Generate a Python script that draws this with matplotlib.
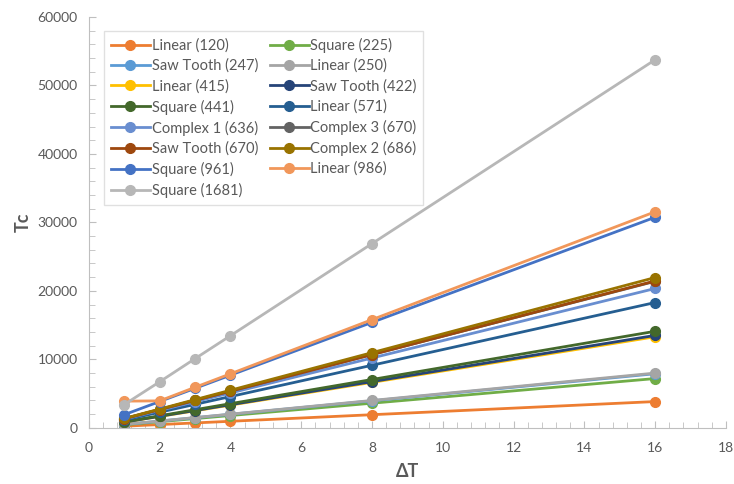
import matplotlib
matplotlib.use("Agg")
import matplotlib.pyplot as plt
from matplotlib.ticker import MultipleLocator

plt.rcParams['font.family'] = ['Lato', 'DejaVu Sans']

# temperature steps
dT = [1, 2, 3, 4, 8, 16]

names = ['Linear (120)', 'Square (225)', 'Saw Tooth (247)', 'Linear (250)',
         'Linear (415)', 'Saw Tooth (422)', 'Square (441)', 'Linear (571)',
         'Complex 1 (636)', 'Complex 3 (670)', 'Saw Tooth (670)', 'Complex 2 (686)',
         'Square (961)', 'Linear (986)', 'Square (1681)']

lin120 = [240, 480, 720, 960, 1920, 3840]
sq225 = [450, 900, 1350, 1800, 3600, 7200]
saw247 = [490, 990, 1480, 1980, 3950, 7900]
lin250 = [500, 1000, 1500, 2000, 4000, 8000]
lin415 = [830, 1660, 2490, 3320, 6640, 13300]
saw422 = [840, 1690, 2530, 3380, 6750, 13500]
sq441 = [880, 1760, 2650, 3530, 7060, 14100]
lin571 = [1140, 2280, 3430, 4570, 9140, 18300]
cx1_636 = [1270, 2540, 3820, 5090, 10200, 20350]
cx3_670 = [1340, 2680, 4020, 5360, 10700, 21400]
saw670 = [1340, 2680, 4020, 5360, 10700, 21450]
cx2_686 = [1370, 2740, 4120, 5490, 10980, 21950]
sq961 = [1920, 3840, 5770, 7690, 15400, 30750]
lin986 = [3900, 3940, 5920, 7890, 15800, 31550]
sq1681 = [3400, 6720, 10100, 13450, 26900, 53750]

series = [lin120, sq225, saw247, lin250, lin415, saw422, sq441, lin571,
          cx1_636, cx3_670, saw670, cx2_686, sq961, lin986, sq1681]

colors = ['#ED7D31', '#70AD47', '#5B9BD5', '#A5A5A5', '#FFC000', '#264478',
          '#43682B', '#255E91', '#698ED0', '#636363', '#9E480E', '#997300',
          '#4472C4', '#F1975A', '#B7B7B7']

fig = plt.figure(figsize=(7.34, 4.84), dpi=100)
ax = fig.add_axes([0.121, 0.116, 0.868, 0.849])

handles = []
for vals, name, c in zip(series, names, colors):
    h, = ax.plot(dT, vals, color=c, lw=2, marker='o', ms=7, label=name)
    handles.append(h)

ax.set_xlim(0, 18)
ax.set_ylim(0, 60000)
ax.xaxis.set_major_locator(MultipleLocator(2))
ax.yaxis.set_major_locator(MultipleLocator(10000))
ax.xaxis.set_minor_locator(MultipleLocator(0.4))
ax.yaxis.set_minor_locator(MultipleLocator(2000))
ax.tick_params(which='both', direction='in', color='#BFBFBF', labelcolor='#595959',
               labelsize=10)
ax.tick_params(which='major', length=5)
ax.tick_params(which='minor', length=4)
ax.tick_params(axis='x', pad=10)
ax.tick_params(axis='y', pad=8)
for s in ['top', 'right']:
    ax.spines[s].set_visible(False)
for s in ['left', 'bottom']:
    ax.spines[s].set_color('#BFBFBF')

ax.set_xlabel('ΔT', fontsize=13, color='#595959', fontweight='bold', labelpad=7)
ax.set_ylabel('Tc', fontsize=13, color='#595959', fontweight='bold', labelpad=4)

# legend is row-major in the reference, matplotlib fills columns first
order = list(range(0, 15, 2)) + list(range(1, 15, 2))
leg = ax.legend([handles[i] for i in order], [names[i] for i in order], ncol=2,
                loc='upper left', bbox_to_anchor=(0.0126, 0.983), fontsize=10.5,
                frameon=True, fancybox=False, edgecolor='#D9D9D9',
                labelspacing=0.41, handlelength=2.7, handletextpad=0.1,
                columnspacing=0.8, borderpad=0.45)
for t in leg.get_texts():
    t.set_color('#595959')

fig.savefig('out.png', dpi=100)
